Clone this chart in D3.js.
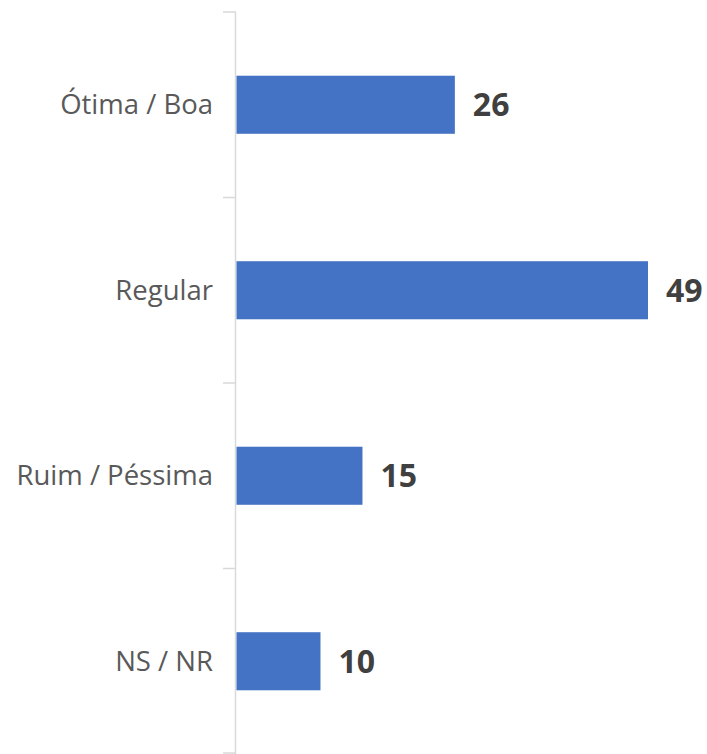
<!DOCTYPE html>
<html><head><meta charset="utf-8">
<script src="https://cdn.jsdelivr.net/npm/d3@7"></script>
<style>html,body{margin:0;padding:0;background:#fff;}</style>
</head><body>
<svg id="chart" width="707" height="754"></svg>
<script>
const categories = ["Ótima / Boa", "Regular", "Ruim / Péssima", "NS / NR"];
const values = [26, 49, 15, 10];

const svg = d3.select("#chart");
const x = d3.scaleLinear().domain([0, 49]).range([236.5, 648]);
const y = d3.scaleBand().domain(categories).range([12, 754]).paddingInner(0).paddingOuter(0);
const barH = y.bandwidth() * 0.313;

// axis line and ticks
const axis = svg.append("g");
axis.append("line").attr("x1", 235.5).attr("x2", 235.5).attr("y1", 12).attr("y2", 754)
  .attr("stroke", "#d9d9d9").attr("stroke-width", 1.5);
const tickYs = categories.map(c => y(c)).concat([y.range()[1] - 1]);
axis.selectAll("line.tick").data(tickYs).enter().append("line").attr("class","tick")
  .attr("x1", 223).attr("x2", 236).attr("y1", d => d).attr("y2", d => d)
  .attr("stroke", "#d9d9d9").attr("stroke-width", 1.5);

const data = categories.map((c, i) => ({c, v: values[i]}));

svg.selectAll("rect.bar").data(data).enter().append("rect").attr("class","bar")
  .attr("x", x(0)).attr("width", d => x(d.v) - x(0))
  .attr("y", d => y(d.c) + y.bandwidth()/2 - barH/2).attr("height", barH)
  .attr("fill", "#4472c4");

svg.selectAll("text.cat").data(data).enter().append("text").attr("class","cat")
  .attr("x", 213).attr("y", d => y(d.c) + y.bandwidth()/2)
  .attr("dy", "0.35em").attr("text-anchor", "end")
  .attr("font-family", "'Open Sans', sans-serif").attr("font-size", 27.5)
  .attr("fill", "#595959").text(d => d.c);

svg.selectAll("text.val").data(data).enter().append("text").attr("class","val")
  .attr("x", d => x(d.v) + 18).attr("y", d => y(d.c) + y.bandwidth()/2)
  .attr("dy", "0.36em")
  .attr("font-family", "'Open Sans', sans-serif").attr("font-weight", "bold").attr("font-size", 32)
  .attr("fill", "#404040").text(d => d.v);
</script>
</body></html>
